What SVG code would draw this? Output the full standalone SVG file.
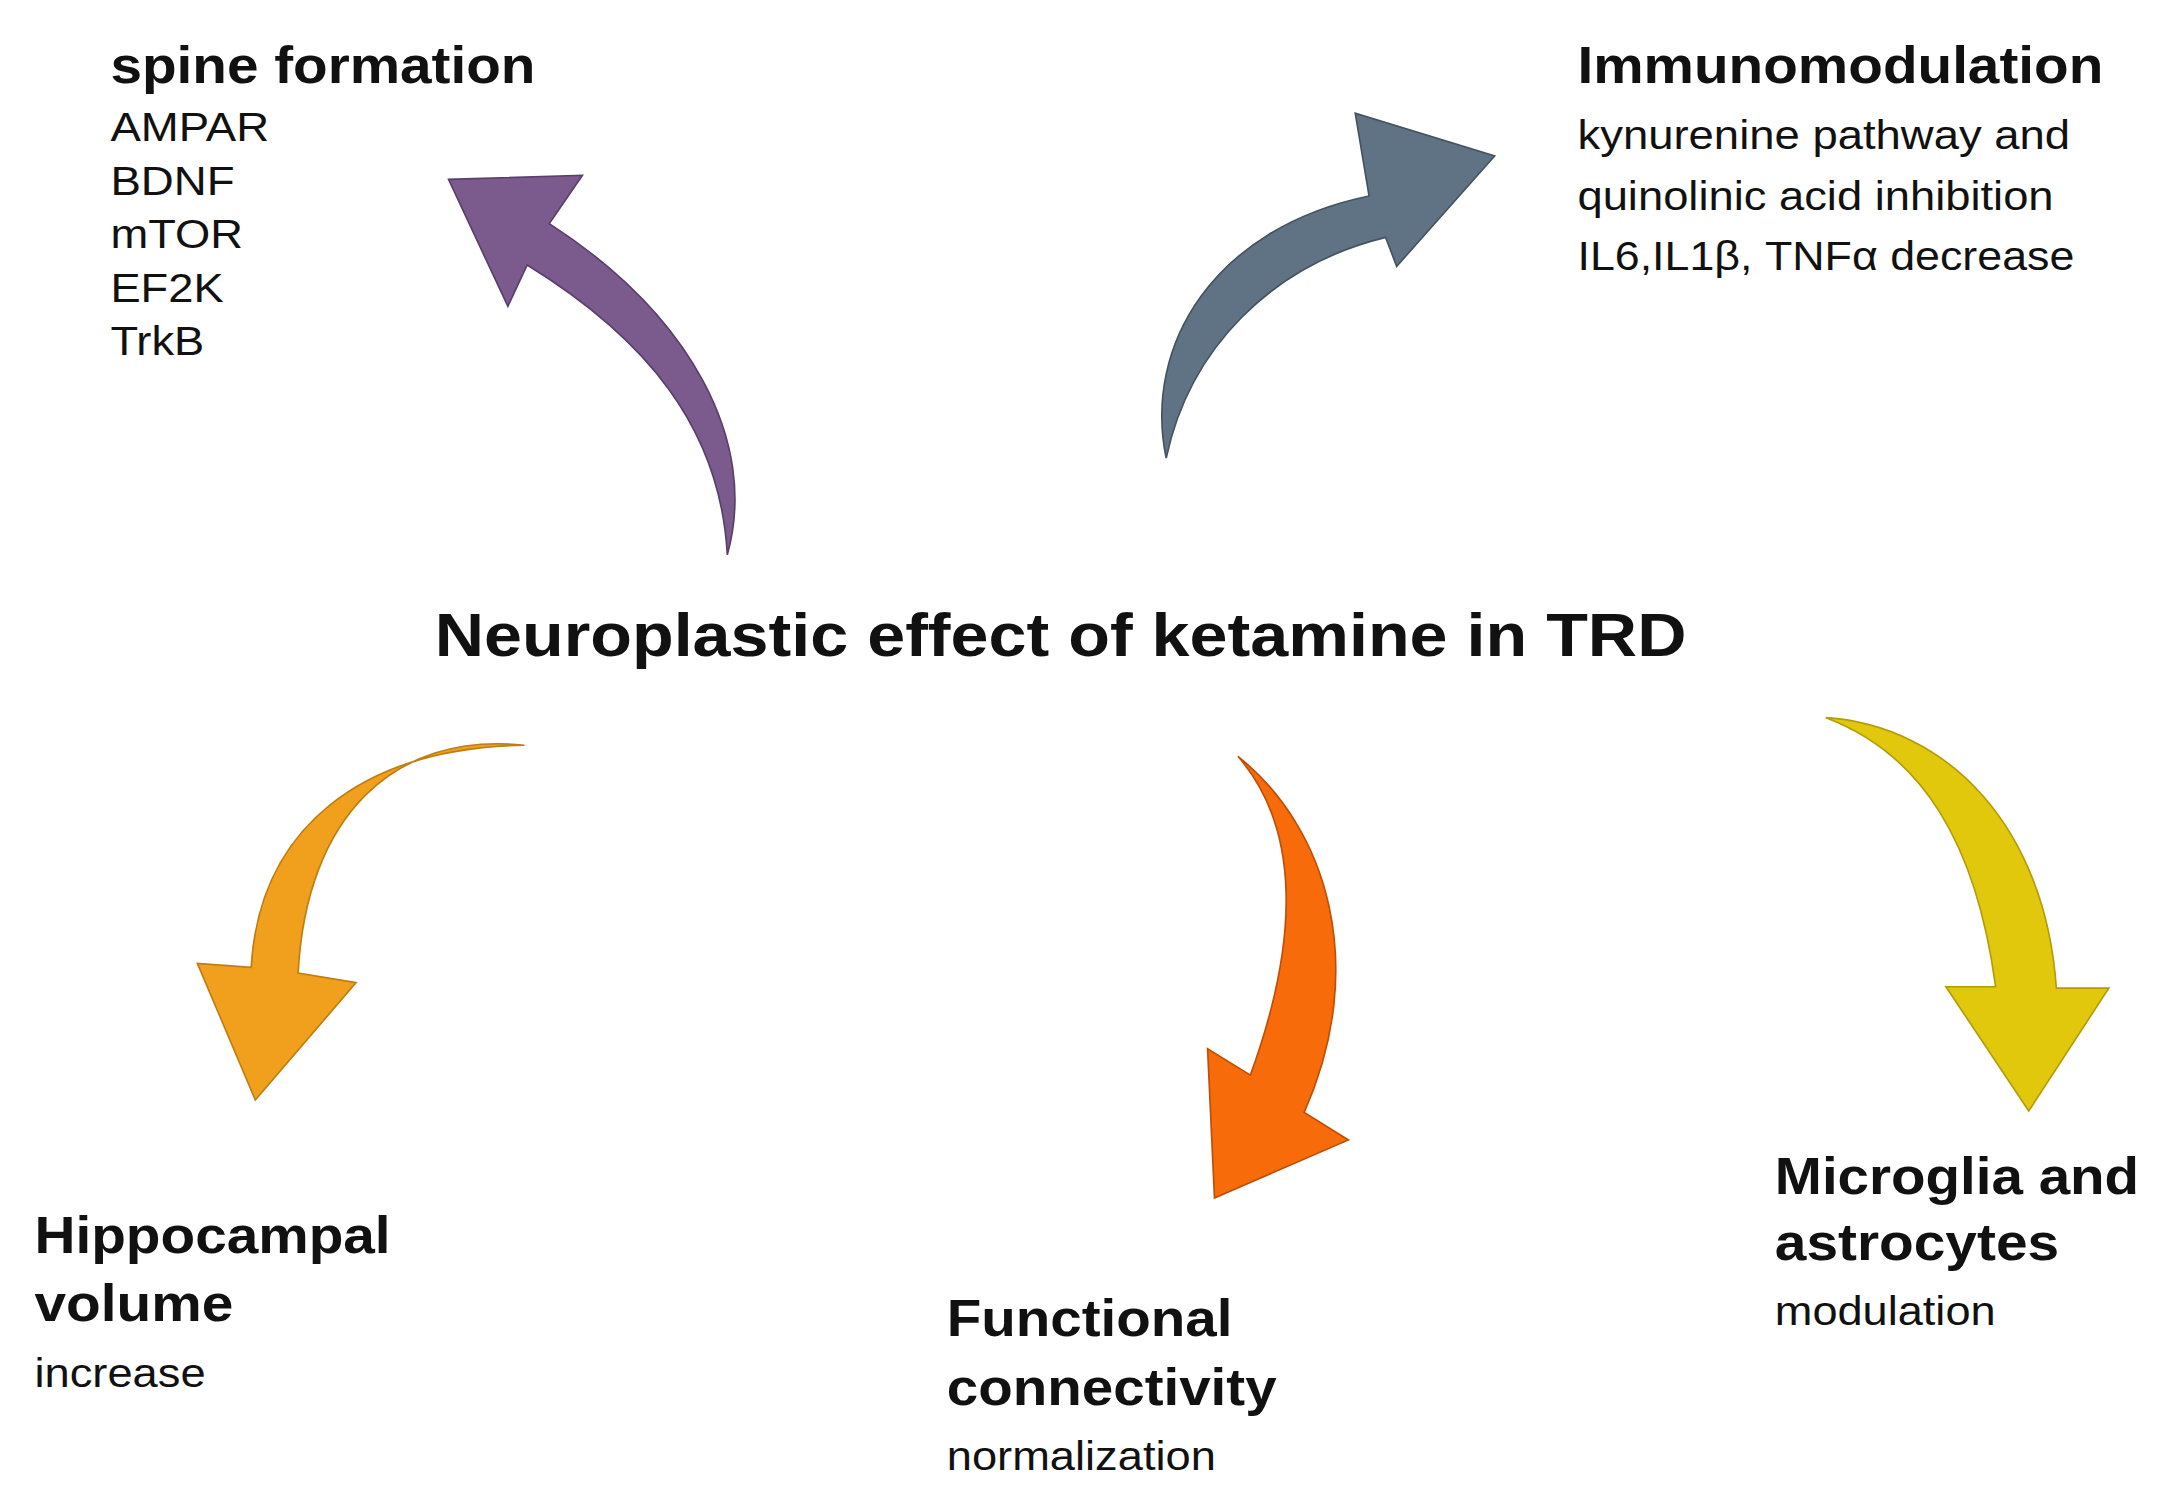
<svg xmlns="http://www.w3.org/2000/svg" width="2164" height="1503" viewBox="0 0 2164 1503">
<style>
text{font-family:"Liberation Sans",Arial,sans-serif;fill:#111}
.h{font-weight:bold;font-size:37px}
.s{font-size:29px}
.a{stroke-width:1.2}
</style>
<rect width="2164" height="1503" fill="#fff"/>
<g transform="scale(1.3801)">
<g id="connectors">
<path class="a" fill="#7b5a8e" stroke="#5a3f6a" d="M527,402 C550,320 500,228 398,162 L422,127 L325,130 L368,222 L382,192 C468,245 522,310 527,402Z"/>
<path class="a" fill="#5f7384" stroke="#44535f" d="M845,332 C828,250 880,165 992,142 L982,82 L1083,113 L1012,193 L1004,172 C922,192 862,252 845,332Z"/>
<path class="a" fill="#f0a01c" stroke="#c07d10" d="M380,540 C285,530 222,592 216,705 L258,712 L185,797 L143,698 L182,701 C188,600 262,542 380,540Z"/>
<path class="a" fill="#f76b0a" stroke="#c04f05" d="M897,548 C962,600 992,700 945,806 L977,826 L880,868 L875,760 L906,779 C942,680 942,600 897,548Z"/>
<path class="a" fill="#e2c80c" stroke="#b29c08" d="M1323,520 C1412,526 1482,600 1490,716 L1528,716 L1470,805 L1410,715 L1446,715 C1432,610 1392,546 1323,520Z"/>
</g>
<g id="center"><text x="315" y="475" font-weight="bold" font-size="44" textLength="907" lengthAdjust="spacingAndGlyphs">Neuroplastic effect of ketamine in TRD</text></g>
<g id="spine">
<text class="h" x="80" y="60" textLength="308" lengthAdjust="spacingAndGlyphs">spine formation</text>
<text class="s" x="80" y="102" textLength="115" lengthAdjust="spacingAndGlyphs">AMPAR</text>
<text class="s" x="80" y="141" textLength="90" lengthAdjust="spacingAndGlyphs">BDNF</text>
<text class="s" x="80" y="180" textLength="96" lengthAdjust="spacingAndGlyphs">mTOR</text>
<text class="s" x="80" y="219" textLength="82" lengthAdjust="spacingAndGlyphs">EF2K</text>
<text class="s" x="80" y="257" textLength="68" lengthAdjust="spacingAndGlyphs">TrkB</text>
</g>
<g id="immuno">
<text class="h" x="1143" y="60" textLength="381" lengthAdjust="spacingAndGlyphs">Immunomodulation</text>
<text class="s" x="1143" y="108" textLength="357" lengthAdjust="spacingAndGlyphs">kynurenine pathway and</text>
<text class="s" x="1143" y="152" textLength="345" lengthAdjust="spacingAndGlyphs">quinolinic acid inhibition</text>
<text class="s" x="1143" y="196" textLength="360" lengthAdjust="spacingAndGlyphs">IL6,IL1β, TNFα decrease</text>
</g>
<g id="hippo">
<text class="h" x="25" y="908" textLength="258" lengthAdjust="spacingAndGlyphs">Hippocampal</text>
<text class="h" x="25" y="957" textLength="144" lengthAdjust="spacingAndGlyphs">volume</text>
<text class="s" x="25" y="1005" textLength="124" lengthAdjust="spacingAndGlyphs">increase</text>
</g>
<g id="functional">
<text class="h" x="686" y="968" textLength="207" lengthAdjust="spacingAndGlyphs">Functional</text>
<text class="h" x="686" y="1018" textLength="239" lengthAdjust="spacingAndGlyphs">connectivity</text>
<text class="s" x="686" y="1065" textLength="195" lengthAdjust="spacingAndGlyphs">normalization</text>
</g>
<g id="microglia">
<text class="h" x="1286" y="865" textLength="264" lengthAdjust="spacingAndGlyphs">Microglia and</text>
<text class="h" x="1286" y="913" textLength="206" lengthAdjust="spacingAndGlyphs">astrocytes</text>
<text class="s" x="1286" y="960" textLength="160" lengthAdjust="spacingAndGlyphs">modulation</text>
</g>
</g>
</svg>
